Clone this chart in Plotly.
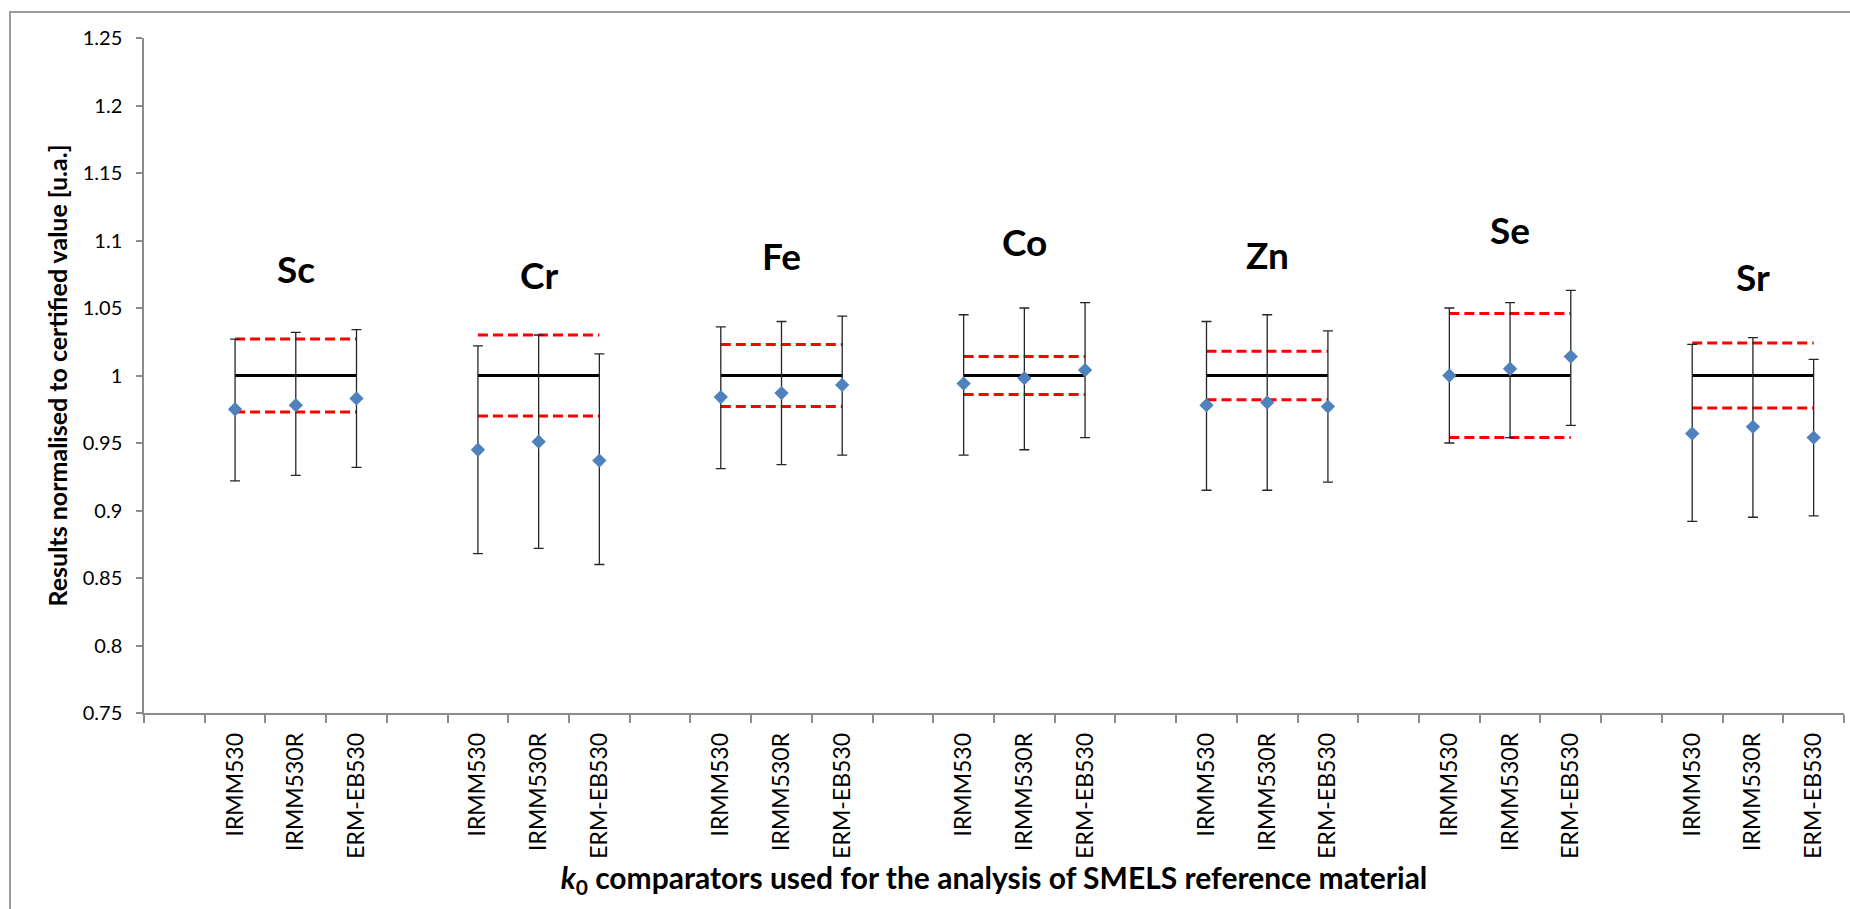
import plotly.graph_objects as go

# ---------------- data ----------------
elements = ["Sc", "Cr", "Fe", "Co", "Zn", "Se", "Sr"]
comparators = ["IRMM530", "IRMM530R", "ERM-EB530"]

# normalised results (one row per element, one column per comparator)
values = [
    [0.975, 0.978, 0.983],
    [0.945, 0.951, 0.937],
    [0.984, 0.987, 0.993],
    [0.994, 0.998, 1.004],
    [0.978, 0.980, 0.977],
    [1.000, 1.005, 1.014],
    [0.957, 0.962, 0.954],
]
upper = [
    [1.027, 1.032, 1.034],
    [1.022, 1.030, 1.016],
    [1.036, 1.040, 1.044],
    [1.045, 1.050, 1.054],
    [1.040, 1.045, 1.033],
    [1.050, 1.054, 1.063],
    [1.023, 1.028, 1.012],
]
lower = [
    [0.922, 0.926, 0.932],
    [0.868, 0.872, 0.860],
    [0.931, 0.934, 0.941],
    [0.941, 0.945, 0.954],
    [0.915, 0.915, 0.921],
    [0.950, 0.954, 0.963],
    [0.892, 0.895, 0.896],
]
certified = [1.0, 1.0, 1.0, 1.0, 1.0, 1.0, 1.0]
cert_upper = [1.027, 1.030, 1.023, 1.014, 1.018, 1.046, 1.024]
cert_lower = [0.973, 0.970, 0.977, 0.986, 0.982, 0.954, 0.976]

y_ticks = [0.75, 0.8, 0.85, 0.9, 0.95, 1.0, 1.05, 1.1, 1.15, 1.2, 1.25]
y_tick_labels = ["0.75", "0.8", "0.85", "0.9", "0.95", "1", "1.05", "1.1", "1.15", "1.2", "1.25"]

# ---------------- layout helpers ----------------
slots_per_group = len(comparators) + 1        # one empty slot before each group
n_slots = slots_per_group * len(elements)

def xpos(g, k):
    return g * slots_per_group + 1 + k + 0.5

FONT = "Lato"
fig = go.Figure()

# certified value and its uncertainty lines
for g, el in enumerate(elements):
    x0, x1 = xpos(g, 0), xpos(g, len(comparators) - 1)
    fig.add_trace(go.Scatter(x=[x0, x1], y=[cert_upper[g]] * 2, mode="lines",
                             line=dict(color="#FF0000", width=3, dash="10px,5px"),
                             showlegend=False, hoverinfo="skip"))
    fig.add_trace(go.Scatter(x=[x0, x1], y=[cert_lower[g]] * 2, mode="lines",
                             line=dict(color="#FF0000", width=3, dash="10px,5px"),
                             showlegend=False, hoverinfo="skip"))
    fig.add_trace(go.Scatter(x=[x0, x1], y=[certified[g]] * 2, mode="lines",
                             line=dict(color="#000000", width=3),
                             showlegend=False, hoverinfo="skip"))

# results with error bars
xs, ys, eplus, eminus = [], [], [], []
for g in range(len(elements)):
    for k in range(len(comparators)):
        xs.append(xpos(g, k))
        ys.append(values[g][k])
        eplus.append(upper[g][k] - values[g][k])
        eminus.append(values[g][k] - lower[g][k])

fig.add_trace(go.Scatter(
    x=xs, y=ys, mode="markers",
    marker=dict(symbol="diamond", size=11, color="#4F81BD"),
    error_y=dict(type="data", symmetric=False, array=eplus, arrayminus=eminus,
                 color="#262626", thickness=1.3, width=5),
    showlegend=False,
))

# element labels above each group
for g, el in enumerate(elements):
    top = max(upper[g])
    fig.add_annotation(x=xpos(g, 1), y=top + 0.045, text="<b>%s</b>" % el,
                       showarrow=False, xanchor="center", yanchor="middle",
                       font=dict(family=FONT, size=37, color="#000000"))

tick_x = [xpos(g, k) for g in range(len(elements)) for k in range(len(comparators))]
tick_text = [comparators[k] for g in range(len(elements)) for k in range(len(comparators))]

fig.update_layout(
    width=1850, height=909,
    margin=dict(l=144, r=6, t=38, b=196),
    paper_bgcolor="white", plot_bgcolor="white",
    font=dict(family=FONT, color="#000000"),
    xaxis=dict(
        range=[0, n_slots], tickmode="array", tickvals=tick_x, ticktext=tick_text,
        tickangle=-90, ticks="", showgrid=False, zeroline=False,
        showline=True, linecolor="#8C8C8C", linewidth=1.5,
        tickfont=dict(family=FONT, size=23, color="#000000"),
        ticklabelstandoff=9,
        minor=dict(tickmode="array", tickvals=list(range(n_slots + 1)),
                   ticks="outside", ticklen=8, tickcolor="#8C8C8C", tickwidth=1.5,
                   showgrid=False),
        title=dict(text="<b><i>k</i><sub>0</sub> comparators used for the analysis of SMELS reference material</b>",
                   font=dict(family=FONT, size=30, color="#000000"), standoff=0),
    ),
    yaxis=dict(
        range=[0.75, 1.25], tickmode="array", tickvals=y_ticks, ticktext=y_tick_labels,
        ticks="outside", ticklen=6, tickcolor="#8C8C8C", tickwidth=1.5,
        showgrid=False, zeroline=False, showline=True, linecolor="#8C8C8C", linewidth=1.5,
        tickfont=dict(family=FONT, size=20, color="#000000"),
        ticklabelstandoff=10,
        title=dict(text="<b>Results normalised to certified value [u.a.]</b>",
                   font=dict(family=FONT, size=25, color="#000000"), standoff=8),
    ),
    shapes=[dict(type="rect", xref="paper", yref="paper",
                 x0=(10 - 144) / 1700, x1=(1870 - 144) / 1700,
                 y0=(713 - 930) / 675, y1=1 + (38 - 12) / 675,
                 line=dict(color="#9A9A9A", width=2), layer="below")],
)

fig.write_html("out.html")
